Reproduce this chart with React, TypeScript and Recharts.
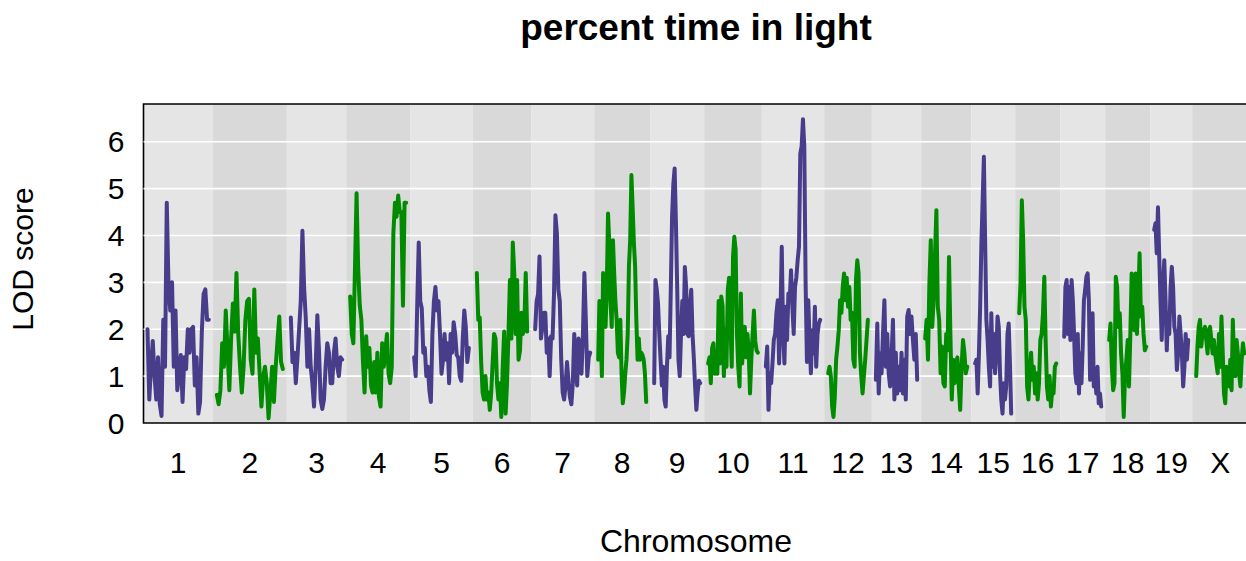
import { Line, LineChart, ReferenceArea, ReferenceLine, XAxis, YAxis } from "recharts";

// genome scan: LOD score along each chromosome (cM), chromosomes laid end to end
const chromosomes = ["1", "2", "3", "4", "5", "6", "7", "8", "9", "10", "11", "12", "13", "14", "15", "16", "17", "18", "19", "X"];
const chromLengths = [92, 99, 77, 84, 82, 75.5, 82.5, 72, 69, 74.5, 81.5, 59.5, 62, 63, 54, 55.5, 55.5, 55.5, 51, 72];
const GAP = 12;

const lod1 = [2.0, 0.5, 1.2, 1.75, 1.0, 0.5, 1.4, 0.4, 0.15, 2.2, 1.2, 4.7, 2.9, 2.4, 3.0, 1.2, 2.4, 0.7, 1.05, 1.45, 0.45, 1.4, 1.15, 2.0, 1.5, 2.0, 2.05, 0.8, 1.4, 0.2, 0.45, 1.95, 2.75, 2.85, 2.2, 2.2];
const lod2 = [0.6, 0.4, 0.7, 1.7, 1.2, 2.4, 1.55, 0.7, 1.8, 2.55, 1.95, 3.2, 1.9, 1.2, 0.65, 1.2, 2.2, 2.6, 2.65, 1.35, 1.05, 2.85, 1.5, 1.8, 1.05, 0.35, 1.0, 1.2, 0.85, 0.1, 0.65, 1.2, 0.45, 1.2, 1.75, 2.27, 1.3, 1.15];
const lod3 = [2.25, 1.3, 1.5, 0.85, 1.4, 2.0, 2.6, 4.1, 2.9, 2.25, 1.2, 2.0, 1.2, 0.85, 0.35, 1.2, 2.3, 1.55, 0.5, 0.3, 0.5, 1.2, 1.7, 1.5, 0.85, 0.85, 1.5, 1.8, 1.2, 1.0, 1.4, 1.35];
const lod4 = [2.7, 1.9, 1.7, 3.3, 4.9, 3.3, 2.5, 2.2, 1.3, 0.65, 1.85, 1.2, 1.6, 0.8, 0.65, 1.3, 0.65, 1.5, 0.55, 0.35, 1.7, 1.2, 1.55, 1.9, 1.05, 0.85, 1.2, 4.05, 4.7, 4.4, 4.85, 4.5, 4.5, 2.5, 4.7, 4.7];
const lod5 = [1.4, 1.0, 2.5, 3.85, 2.6, 2.45, 1.5, 1.6, 1.0, 1.2, 0.7, 0.45, 1.9, 2.6, 2.9, 2.4, 2.6, 1.9, 1.05, 1.35, 1.9, 1.35, 1.7, 0.85, 1.9, 1.5, 2.15, 1.9, 1.45, 1.4, 1.0, 0.9, 1.8, 2.4, 2.05, 1.3, 1.6];
const lod6 = [3.2, 2.2, 2.25, 1.3, 0.65, 0.5, 1.0, 0.5, 0.65, 0.28, 0.65, 1.3, 1.9, 1.8, 0.85, 0.5, 0.85, 0.13, 1.2, 1.95, 0.2, 0.85, 1.9, 3.05, 1.8, 3.85, 3.2, 1.9, 3.05, 1.35, 1.55, 2.35, 1.9, 2.05, 3.2, 1.95];
const lod7 = [2.0, 2.6, 2.75, 3.55, 1.8, 2.05, 2.35, 2.35, 1.5, 1.8, 1.0, 1.85, 1.8, 2.75, 4.43, 4.05, 2.85, 2.6, 1.35, 0.65, 0.5, 0.8, 1.3, 0.9, 0.55, 0.4, 0.85, 1.9, 1.35, 0.8, 1.8, 1.3, 1.05, 1.9, 3.2, 2.2, 1.0, 1.4, 1.5];
const lod8 = [1.35, 2.6, 2.05, 1.0, 3.2, 2.35, 2.05, 2.9, 4.47, 3.85, 2.6, 2.05, 3.9, 3.2, 2.6, 2.2, 1.5, 1.4, 2.2, 1.05, 0.42, 0.65, 1.05, 1.35, 1.9, 3.35, 3.9, 5.29, 4.6, 3.85, 3.35, 2.2, 1.35, 1.8, 1.35, 1.5, 1.45, 1.35, 1.05, 0.45];
const lod9 = [0.85, 3.05, 2.85, 2.55, 1.9, 1.35, 0.8, 1.2, 0.5, 0.35, 1.2, 1.85, 1.4, 2.85, 4.4, 5.1, 5.43, 4.3, 2.9, 1.35, 1.0, 1.9, 2.6, 1.9, 3.33, 2.9, 1.9, 1.85, 2.5, 2.84, 1.9, 1.4, 0.8, 0.28, 0.65, 0.9, 0.85];
const lod10 = [1.27, 1.4, 0.85, 1.6, 1.7, 1.05, 1.5, 1.05, 2.6, 1.27, 2.7, 2.5, 1.0, 2.0, 1.2, 2.84, 3.1, 2.2, 1.2, 3.55, 3.97, 3.7, 1.9, 1.2, 0.78, 2.76, 1.27, 1.9, 2.05, 1.4, 1.9, 1.55, 0.63, 1.35, 1.9, 2.4, 1.75, 1.55, 1.5];
const lod11 = [1.2, 1.63, 0.28, 1.05, 0.85, 1.27, 1.77, 1.9, 2.35, 2.62, 1.27, 2.27, 3.76, 1.98, 1.27, 2.48, 1.77, 2.76, 2.62, 3.26, 2.48, 1.9, 2.9, 3.1, 3.47, 3.76, 5.75, 5.9, 6.48, 5.9, 3.0, 1.3, 2.62, 1.77, 1.06, 1.98, 1.48, 2.48, 1.2, 1.9, 2.12, 2.2];
const lod12 = [1.06, 1.2, 1.0, 0.35, 0.13, 0.56, 1.35, 1.63, 1.98, 2.62, 2.35, 2.9, 3.19, 2.62, 3.1, 2.48, 2.9, 2.2, 2.35, 1.35, 1.2, 3.05, 3.47, 3.19, 1.5, 1.0, 0.63, 1.0, 1.35, 1.77, 2.2];
const lod13 = [0.92, 2.12, 0.63, 1.48, 1.06, 1.9, 2.62, 1.2, 1.9, 1.06, 0.78, 1.4, 2.2, 0.5, 1.5, 0.63, 1.2, 0.7, 1.5, 0.63, 1.35, 0.5, 2.27, 2.41, 1.9, 2.27, 1.77, 1.35, 1.9, 0.92];
const lod14 = [1.8, 2.2, 1.35, 2.98, 3.9, 2.05, 2.6, 3.6, 4.54, 2.48, 2.2, 1.06, 1.63, 0.85, 0.78, 1.9, 1.55, 3.54, 1.9, 0.5, 1.35, 0.85, 1.27, 1.4, 0.78, 0.28, 1.2, 1.77, 1.5, 1.06, 1.2];
const lod15 = [1.27, 1.35, 0.63, 1.48, 2.48, 3.83, 4.75, 5.68, 3.9, 2.2, 1.77, 1.2, 0.78, 2.34, 1.2, 1.9, 1.06, 1.48, 2.27, 2.05, 1.06, 0.5, 0.2, 0.85, 0.5, 0.78, 1.9, 2.12, 1.27, 0.2];
const lod16 = [2.34, 2.98, 4.75, 3.9, 2.48, 2.2, 0.78, 0.5, 1.06, 1.5, 0.92, 1.2, 0.63, 1.06, 0.5, 0.85, 1.77, 1.9, 2.34, 3.12, 1.77, 0.78, 0.5, 1.0, 0.35, 0.7, 0.63, 1.2, 1.27];
const lod17 = [1.84, 2.9, 3.05, 1.9, 2.9, 1.77, 3.05, 2.62, 1.9, 1.06, 0.85, 1.9, 0.63, 1.48, 0.85, 1.63, 2.62, 2.84, 3.12, 3.19, 2.62, 0.92, 1.35, 2.34, 0.78, 1.06, 0.63, 1.2, 0.42, 0.63, 0.35];
const lod18 = [1.77, 2.12, 1.2, 0.7, 0.85, 3.12, 2.9, 2.05, 2.34, 1.48, 1.06, 0.13, 1.0, 1.35, 1.77, 0.78, 1.9, 3.19, 2.77, 1.98, 3.19, 1.9, 2.62, 3.62, 2.27, 2.48, 1.9, 1.55, 1.63];
const lod19 = [4.12, 4.26, 3.62, 4.6, 3.55, 2.62, 1.77, 2.9, 3.47, 2.62, 1.55, 2.34, 1.9, 2.9, 3.33, 2.9, 2.05, 1.9, 1.13, 1.48, 2.27, 1.9, 1.48, 0.78, 1.2, 1.9, 1.35, 1.77];
const lodX = [1.0, 1.63, 2.05, 2.2, 1.63, 1.9, 1.98, 2.05, 1.77, 1.48, 1.98, 2.05, 1.77, 1.48, 1.77, 1.48, 1.27, 1.06, 1.9, 1.2, 2.27, 1.5, 0.63, 0.42, 1.2, 1.06, 0.78, 1.35, 0.7, 2.2, 1.35, 1.0, 1.77, 1.48, 1.06, 0.78, 1.35, 1.7, 1.48];

const lodByChrom = [lod1, lod2, lod3, lod4, lod5, lod6, lod7, lod8, lod9, lod10, lod11, lod12, lod13, lod14, lod15, lod16, lod17, lod18, lod19, lodX];
const yTicks = [0, 1, 2, 3, 4, 5, 6];

const PURPLE = "#483d8b";
const GREEN = "#008b00";
const FONT = "'Liberation Sans', Arial, Helvetica, sans-serif";

type Segment = {
  name: string;
  bandStart: number;
  bandEnd: number;
  mid: number;
  points: { pos: number; lod: number }[];
};

// lay chromosomes out one after the other with a gap between them
const segments: Segment[] = [];
let cursor = 0;
chromosomes.forEach((name, i) => {
  const len = chromLengths[i];
  const start = cursor + GAP / 2;
  const values = lodByChrom[i];
  const step = len / (values.length - 1);
  segments.push({
    name,
    bandStart: cursor,
    bandEnd: start + len + GAP / 2,
    mid: start + len / 2,
    points: values.map((lod, j) => ({ pos: start + j * step, lod })),
  });
  cursor = start + len + GAP / 2;
});
const totalLength = cursor;
const maxLod = Math.max(...lodByChrom.flat());
const yMax = maxLod * 1.05;

export default function App() {
  return (
    <div
      style={{
        position: "relative",
        width: 1246,
        height: 561,
        padding: 8,
        boxSizing: "border-box",
        overflow: "hidden",
        fontFamily: FONT,
      }}
    >
      <style>{`html, body { margin: 0; padding: 0; overflow: hidden; }`}</style>
      <LineChart
        width={1250}
        height={545}
        margin={{ top: 96, right: 9.8, bottom: 70, left: 0 }}
      >
        <XAxis
          dataKey="pos"
          type="number"
          domain={[0, totalLength]}
          allowDataOverflow
          ticks={segments.map((s) => s.mid)}
          tickFormatter={(v: number) => segments.find((s) => Math.abs(s.mid - v) < 0.01)?.name ?? ""}
          axisLine={false}
          tickLine={false}
          tickSize={0}
          tickMargin={29}
          height={60}
          interval={0}
          tick={{ fill: "#000", fontSize: 30, fontFamily: FONT }}
        />
        <YAxis
          type="number"
          domain={[0, yMax]}
          allowDataOverflow
          ticks={yTicks}
          axisLine={false}
          tickLine={false}
          tickSize={0}
          tickMargin={19}
          width={135.5}
          interval={0}
          tick={{ fill: "#000", fontSize: 30, fontFamily: FONT }}
        />
        {segments.map((s, i) => (
          <ReferenceArea
            key={`band-${s.name}`}
            x1={s.bandStart}
            x2={s.bandEnd}
            y1={0}
            y2={yMax}
            fill={i % 2 === 0 ? "#e5e5e5" : "#d9d9d9"}
            fillOpacity={1}
            stroke="none"
          />
        ))}
        {yTicks.slice(1).map((t) => (
          <ReferenceLine key={`grid-${t}`} y={t} stroke="#ffffff" strokeWidth={1.6} />
        ))}
        {segments.map((s, i) => (
          <Line
            key={`chr-${s.name}`}
            data={s.points}
            dataKey="lod"
            type="linear"
            stroke={i % 2 === 0 ? PURPLE : GREEN}
            strokeWidth={4}
            strokeLinejoin="round"
            strokeLinecap="round"
            dot={false}
            activeDot={false}
            isAnimationActive={false}
          />
        ))}
        <ReferenceArea
          x1={0}
          x2={totalLength}
          y1={0}
          y2={yMax}
          fill="none"
          stroke="#000"
          strokeWidth={1.6}
        />
      </LineChart>
      <svg
        width={1246}
        height={561}
        style={{ position: "absolute", left: 0, top: 0, pointerEvents: "none" }}
      >
        <text x={696} y={40.4} textAnchor="middle" fontSize={37} fontWeight="bold" fontFamily={FONT}>
          percent time in light
        </text>
        <text x={696} y={551.5} textAnchor="middle" fontSize={32} fontFamily={FONT}>
          Chromosome
        </text>
        <text
          x={33.3}
          y={259}
          textAnchor="middle"
          fontSize={30}
          fontFamily={FONT}
          transform="rotate(-90 33.3 259)"
        >
          LOD score
        </text>
      </svg>
    </div>
  );
}
